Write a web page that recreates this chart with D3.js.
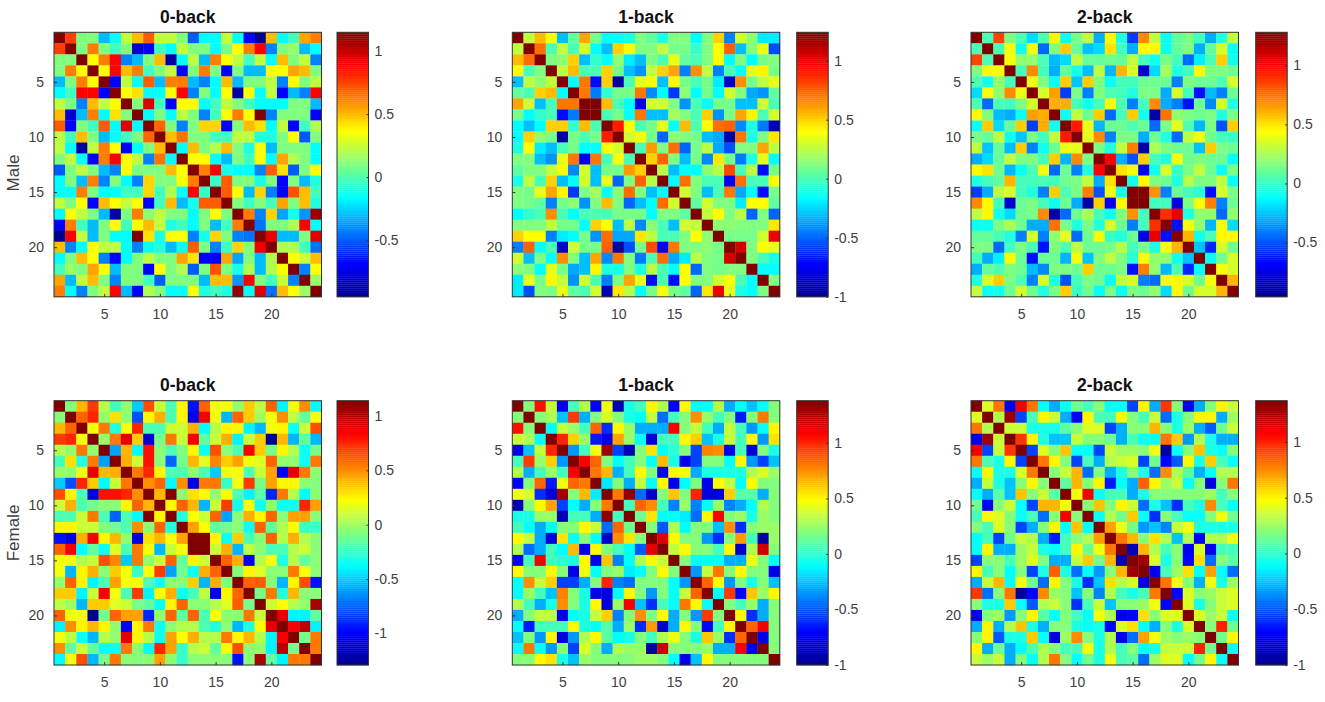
<!DOCTYPE html>
<html lang="en">
<head>
<meta charset="UTF-8" />
<title>Functional connectivity by task load</title>
<style>
    body { margin: 0; background: #fff; }
    svg text { font-family: "Liberation Sans", Arial, sans-serif; }
    .axis text { font-size: 14px; fill: #404040; }
    .axis path, .axis line { stroke: #333; stroke-width: 1; }
    .cells { filter: blur(0.55px); }
</style>
</head>
<body>
<div id="container"></div>
<script src="https://cdnjs.cloudflare.com/ajax/libs/d3/7.1.1/d3.min.js"></script>
<script>
    // upper triangle of each matrix, one row per line, starting at the diagonal
    const male0 = [
        [1.15,.76,.1,.1,-.3,-.16,.23,.5,.7,.23,.23,.1,-.5,-.16,-.16,.23,-.16,-.69,-.95,.5,-.16,-.03,.55,.63],
        [1.15,.1,.63,.1,-.03,.1,-.8,-.69,-.03,-.16,.23,.1,.1,-.16,.1,.36,.63,.89,-.42,.1,.15,-.3,-.16],
        [1.15,.36,.63,.89,-.42,-.3,.1,.5,-.9,-.16,.23,-.3,.63,.36,.23,-.03,.23,-.16,.5,.1,.23,-.42],
        [1.15,.36,.89,.5,.63,-.03,.1,.23,-.69,.1,.63,.1,-.69,.1,-.3,-.3,.36,.36,.55,.5,.1],
        [1.15,-.69,.23,-.16,.7,-.3,.63,.63,-.3,-.42,-.16,.5,-.3,.1,.1,.23,-.42,.36,.1,.23],
        [1.15,.36,.42,-.16,-.16,.36,.89,-.42,.1,-.16,.36,-.9,.36,-.16,.23,-.69,-.3,-.42,.89],
        [1.15,.1,.95,-.03,-.69,.36,.36,-.16,-.03,.23,.1,-.03,-.16,-.16,-.16,.1,.1,-.3],
        [1.15,-.16,.1,-.16,.23,.1,-.42,-.03,.36,.63,.36,1.15,-.42,.1,.1,.1,-.69],
        [1.15,.68,.1,-.42,.1,.45,.45,-.69,.12,.5,.42,-.16,.23,-.69,-.03,.2],
        [1.15,.5,.65,.1,.1,-.03,-.03,.23,.23,-.1,-.1,.1,.36,-.5,.1],
        [1.15,-.16,.5,.1,.2,.5,.1,-.1,.36,-.3,.1,.1,.1,-.16],
        [1.15,.36,.36,-.16,-.3,.1,-.03,.36,-.16,.55,.2,.1,-.16],
        [1.15,.63,.89,-.12,-.16,-.16,-.42,.7,.42,-.5,.1,.36],
        [1.15,-.05,.7,.1,.1,-.12,.1,-.69,.1,-.3,-.1],
        [1.15,.7,.36,-.3,.45,-.42,-.69,.72,.5,-.03],
        [1.15,.1,-.03,.1,-.03,.55,.1,.5,-.1],
        [1.15,.63,-.42,.45,-.35,-.12,-.38,1.1],
        [1.15,-.45,.1,.1,.2,.89,-.16],
        [1.15,.92,-.3,-.3,.1,.95],
        [1.15,.2,.2,-.03,-.45],
        [1.15,.36,.25,.5],
        [1.15,-.42,.36],
        [1.15,.15],
        [1.15]
    ];
    const male1 = [
        [1.25,.26,.55,.4,-.3,.05,.6,.1,-.16,-.16,-.1,.12,.05,-.1,.12,.12,-.16,.12,.5,-.44,.3,.15,-.2,-.2],
        [1.25,.72,0,.26,0,.3,-.16,-.3,.5,.4,.12,.12,.26,.1,.1,-.05,.12,.4,.75,-.3,.12,.35,-.55],
        [1.25,.12,.15,.5,-.3,-.05,-.16,.15,-.2,-.3,.12,0,.35,.05,0,.12,.4,-.16,.12,-.16,.1,.12],
        [1.25,.26,.55,0,0,.5,.1,-.3,-.4,.26,.5,.6,-.44,.65,.26,-.44,0,-.16,.35,.42,.1],
        [1.25,-.16,.7,-.7,.5,-.95,0,.35,.38,-.3,.42,.1,0,.1,-.2,-.85,.65,.1,.26,.35],
        [1.25,.7,-.45,-.05,.1,.1,.7,-.42,-.16,-.6,.15,-.16,.1,-.16,.3,.12,-.35,-.4,.05],
        [1.25,1.25,.55,0,-.16,-.75,.3,.3,.12,-.4,0,-.16,.1,.1,-.3,-.3,.3,0],
        [1.25,0,.1,-.16,.7,-.3,-.3,.2,.12,0,.5,-.4,.1,.6,.42,0,.3],
        [1.25,.9,.4,0,.1,.35,-.16,.55,0,.4,.72,.75,-.42,-.1,-.45,-.9],
        [1.25,.3,.38,.1,-.5,.15,.12,.1,-.3,-.35,-.95,.7,-.1,.12,.45],
        [1.25,0,.62,.12,.72,-.5,.1,.25,-.35,-.55,.12,.12,.6,.25],
        [1.25,.5,.75,.12,-.3,.1,-.42,.45,.1,-.45,-.1,.35,-.16],
        [1.25,.25,-.3,-.16,-.16,.15,.25,.8,0,.25,-.7,.1],
        [1.25,-.16,.72,.12,0,0,-.75,.72,0,0,.38],
        [1.25,.3,.12,-.3,0,.7,-.35,-.16,-.7,.1],
        [1.25,.05,.3,.12,.12,-.2,.4,.4,.05],
        [1.25,.26,.4,.12,.25,-.5,.12,-.5],
        [1.25,.15,.15,.12,.12,.12,.45],
        [1.25,.1,.1,.1,.3,1],
        [1.25,1.05,.12,.4,.35],
        [1.25,.12,0,-.1],
        [1.25,-.16,-.16],
        [1.25,.12],
        [1.25]
    ];
    const male2 = [
        [1.3,.05,.85,.16,.05,-.2,.05,.45,-.1,.15,.3,-.3,.45,-.05,-.55,.7,.3,-.1,.1,.15,.03,-.3,-.05,.3],
        [1.3,.05,.42,-.08,.42,-.45,.16,.55,.1,-.25,-.2,.5,.03,-.3,.45,.45,-.1,.1,.16,-.3,.1,.35,-.1],
        [1.3,.42,.2,.2,.05,-.27,-.2,.3,.1,.1,.12,.1,.3,.03,-.08,.15,.03,-.45,-.15,.05,.55,-.08],
        [1.3,.03,.7,.03,-.3,.1,-.08,-.27,.3,-.28,.6,.35,-.8,-.2,.25,-.05,.03,.45,.16,.16,.12],
        [1.3,.4,.16,-.1,.55,-.25,.55,.16,-.1,.03,.03,.12,.12,.12,-.4,.16,.12,.12,.05,.35],
        [1.3,.35,.65,-.55,.15,-.4,.16,.05,.03,-.05,.15,.15,-.3,.35,.03,-.65,-.27,-.4,.12],
        [1.3,.62,.62,.03,-.08,.03,.42,.05,-.4,.03,.7,-.3,-.4,-.65,.12,-.38,.35,-.05],
        [1.3,-.08,.3,.12,.55,-.45,.03,.55,-.08,-.9,.75,.2,.15,.12,.15,-.05,.15],
        [1.3,.95,.4,-.28,.12,.12,.05,.12,-.45,.15,.38,.05,-.28,.15,-.5,.55],
        [1.3,.38,.7,-.4,.15,.15,-.3,.12,-.05,-.45,.3,.42,.12,.03,0],
        [1.3,.15,-.05,.3,.72,-.9,.25,.15,.12,.12,-.25,.55,.15,.12],
        [1.3,1,-.3,-.5,.55,.03,-.05,.42,.12,.16,.12,.12,-.12],
        [1.3,.5,.42,-.7,-.08,.35,0,.15,.3,.12,-.1,.15],
        [1.3,-.08,.45,.16,.12,-.05,.28,.16,.16,.3,-.1],
        [1.3,1.3,.68,-.4,.12,.03,-.03,-.65,.35,.15],
        [1.3,.03,.03,-.75,.16,.42,.72,-.4,.12],
        [1.3,.9,1.05,-.05,.2,.2,-.45,.2],
        [1.3,-.65,.42,.2,-.28,.42,-.2],
        [1.3,.6,-.08,.05,.45,.45],
        [1.3,-.25,-.6,.35,.12],
        [1.3,-.1,.12,.35],
        [1.3,.42,.35],
        [1.3,.6],
        [1.3]
    ];
    const female0 = [
        [1.15,-.07,.4,.7,.05,-.22,-.03,-.5,.65,.1,-.2,.25,-.95,.6,.2,.2,-.03,.35,.07,.6,-.4,.2,.5,-.38],
        [1.15,.6,.75,-.03,.3,-.03,-.8,.25,.42,-.2,.25,-1.05,.85,.2,-.55,.6,.35,0,.2,.5,.07,-.15,.2],
        [1.15,.2,.55,-.3,.2,.75,-.2,-.2,.1,.1,.42,-.38,.05,.25,.25,-.4,-.55,.2,.25,-.35,.1,.65],
        [1.15,-.03,.55,.9,.35,-1.1,-.1,.55,.1,.85,-.15,.1,.42,-.4,.1,.35,-1.3,.4,-.55,-.15,-.55],
        [1.15,-.6,.4,-.38,.8,-.05,-.2,-.07,.25,-.35,.65,-.05,-.2,.85,.35,-.1,.25,.05,-.35,-.1],
        [1.15,.42,.1,.8,-.05,-.75,-.1,.4,.15,.52,.35,.45,.2,.15,.6,-.03,-.03,-.35,.55],
        [1.15,.55,.75,.25,-.2,-.2,-.03,-.2,-.5,.2,.2,-.2,.1,.45,-1,.9,.55,-.05],
        [1.15,.5,.6,-.38,.5,-1.05,.55,.55,-.25,.2,.7,-.1,.45,.25,.25,-.05,-.07],
        [1.15,.4,1.15,-.05,.3,.22,-.03,.22,-.2,-.4,-.15,-.9,.55,.05,-.38,-.05],
        [1.15,.25,.6,.4,-.55,.1,.7,-.35,.22,-.35,-.03,-.35,-.35,.75,.45],
        [1.15,-.3,.22,.1,.6,-.6,-.05,.42,.25,.6,-.05,.45,.45,-.05],
        [1.15,.45,.22,-.15,-.1,-.05,-.35,.6,-.15,.05,.22,-.25,-.25],
        [1.15,1.15,.25,-.35,.35,-.2,-.05,.6,.05,.42,.05,-.05],
        [1.15,.1,.42,-.55,.07,-.05,-.2,-.2,.05,.1,-.05],
        [1.15,.6,.42,-1,.05,.22,-.3,.05,-.15,-.05],
        [1.15,-.07,.25,.15,-.05,-.05,.55,.22,-.05],
        [1.15,.6,.62,-.05,-.55,.25,.65,-.95],
        [1.15,-.1,.55,-.3,.4,-.05,-.05],
        [1.15,.1,.22,.05,-.03,1.05],
        [1.15,.9,-.4,-.4,-.15],
        [1.15,.85,1,-.4],
        [1.15,-.1,.55],
        [1.15,.55],
        [1.15]
    ];
    const female1 = [
        [1.4,.2,1.05,.35,-.75,.05,.3,-.7,.45,-.9,-.05,.05,.5,.3,-.7,.5,-.1,-.1,.3,-.3,-.1,-.25,-.1,.2],
        [1.4,.2,.3,-.25,.95,-.3,.2,.4,.2,-.05,-.1,.35,-.45,.05,.2,.75,.25,.05,.2,-.65,.2,.8,.2],
        [1.4,-.1,.35,.25,.05,.85,-.6,.5,.25,-.3,-.3,-.3,1.1,.2,.35,.05,-.3,.35,.05,-.35,-.1,.5],
        [1.4,1,.6,.25,-.65,-.8,.7,.25,-.1,-.8,.05,.05,.5,.6,-.25,-.05,.35,.05,.5,-.35,.55],
        [1.4,-.35,.05,.45,1.3,-.55,-.9,.2,.55,-.1,0,.2,-.55,.78,.75,-.75,.05,-.8,.2,-.05],
        [1.4,1.1,.85,.2,-.1,.05,.2,-.1,.65,-.05,-.75,-.55,.2,.2,-.1,.5,-.35,-.55,-.25],
        [1.4,.8,.65,-.3,.05,.5,.2,-.75,.5,.45,-.3,-.05,-.05,-.05,-.05,.3,.4,.25],
        [1.4,-.15,.2,-.3,.35,-.1,.5,-.75,-.1,.2,-.75,.5,.35,-.1,.5,.2,.2],
        [1.4,.8,1.35,-.45,-.85,.2,.62,.2,1,-.8,-.8,.6,.1,.1,-.3,.2],
        [1.4,.05,.85,.75,.05,-.4,.25,-.4,-.1,.25,-.4,-.3,-.1,.3,.2],
        [1.4,.15,.55,-.1,-.1,-.15,-.45,.5,1.1,.2,.25,-.05,.25,.2],
        [1.4,.2,-.5,.3,-.1,.2,.2,-.25,.75,-.6,.2,.25,.25],
        [1.4,1.15,.5,.2,.2,-.35,-.6,.2,.72,.05,-.95,.25],
        [1.4,.35,.5,.2,.2,.05,.5,-.85,.3,1.2,.2],
        [1.4,.2,-.1,-.1,-.1,-.3,-.3,.45,.2,-.1],
        [1.4,-.35,.35,.8,.2,.5,.2,.2,-.75],
        [1.4,.85,.5,-.35,.2,-.05,.2,-.25],
        [1.4,-.1,.95,-.7,.62,.25,.5],
        [1.4,.2,.05,.25,-.3,.2],
        [1.4,.5,-.6,-.3,.2],
        [1.4,.85,1.1,.2],
        [1.4,-.75,.2],
        [1.4,.2],
        [1.4]
    ];
    const female2 = [
        [1.4,.4,.8,-.75,1.1,.8,-.1,-.3,-.1,.15,.05,.2,-.1,-.1,-.55,.5,-.3,.95,.2,-.75,-.3,.2,.5,.35],
        [1.4,.3,1.3,-.55,.05,.5,.35,-.3,-.7,.5,.05,.05,.5,.2,.05,.35,-.45,-.05,.2,.5,.5,-.3,.25],
        [1.4,.35,.35,-.05,-.05,-.05,.1,.2,.4,.4,-.55,-.3,.2,.2,.65,.2,-.05,.25,-.3,-.5,.15,.35],
        [1.4,.95,.5,-.05,-.25,-.25,.35,.2,.2,.15,-.3,.05,-.1,-.1,.8,.6,-.35,.3,-.05,-.3,-.3],
        [1.4,-.55,.4,.2,.62,-.1,-.1,-.55,.35,.25,.25,.2,.45,-.95,-.1,.2,.62,-.05,-.1,.2],
        [1.4,.8,.5,.2,-.55,.05,-.3,.3,.35,.4,-.55,.15,-.7,-.5,.5,-.05,.6,.05,-.1],
        [1.4,.2,.35,.65,-.45,.2,-.3,-.05,.2,-.05,-.45,.75,.3,.1,-.3,-.1,.3,.3],
        [1.4,.1,.65,.2,.5,-.65,-.1,-.3,.85,.5,.25,.35,-.1,.2,-.8,.2,.8],
        [1.4,.45,1.1,-.1,.05,.05,-.3,-.05,.2,.2,.2,.2,.2,.25,.05,.2],
        [1.4,.2,.62,.2,.5,.35,-.45,-.05,-.25,-.6,.05,-.05,.75,.05,-.1],
        [1.4,-.1,.3,.15,.6,-.1,-.6,.2,.05,-.1,-.1,.2,.45,.15],
        [1.4,.7,.45,.15,-.35,-.25,-.4,.35,.45,-.05,-.05,-.05,-.05],
        [1.4,.8,.65,.2,.55,.3,-.25,.3,-.7,.3,.3,.45],
        [1.4,-.9,.65,.3,.05,.2,-.75,.4,-.75,.05,.05],
        [1.4,1.3,.4,-.05,.2,-.7,.55,-.45,.2,.1],
        [1.4,-.75,.05,.25,.55,-.1,.7,-.1,-.45],
        [1.4,.8,.45,.2,-.3,.45,-.05,.25],
        [1.4,-.7,.4,.2,.25,.35,.4],
        [1.4,.4,-.05,.2,.35,.4],
        [1.4,.4,.25,.35,-.1],
        [1.4,.2,1,.15],
        [1.4,.15,.5],
        [1.4,-.1],
        [1.4]
    ];

    const indexTicks = [5, 10, 15, 20];
    const barTicks5 = [-.5, 0, .5, 1];
    const barTicks4 = [-1, -.5, 0, .5, 1];

    const panels = [
        { title: '0-back', m: male0, range: [-.95, 1.15], ticks: barTicks5, x: 54, y: 32.3, bar: 337, h: 264.5 },
        { title: '1-back', m: male1, range: [-1, 1.24], ticks: barTicks4, x: 512.3, y: 32.3, bar: 796.7, h: 264.5 },
        { title: '2-back', m: male2, range: [-.96, 1.28], ticks: barTicks5, x: 971, y: 32.3, bar: 1255.7, h: 264.5 },
        { title: '0-back', m: female0, range: [-1.29, 1.14], ticks: barTicks4, x: 54, y: 400.7, bar: 337, h: 264.3 },
        { title: '1-back', m: female1, range: [-1, 1.38], ticks: barTicks4, x: 512.3, y: 400.7, bar: 796.7, h: 264.3 },
        { title: '2-back', m: female2, range: [-1, 1.37], ticks: barTicks4, x: 971, y: 400.7, bar: 1255.7, h: 264.3 }
    ];

    const plot_w = 267.5, bar_w = 31.5, n = 24;
    const svg = d3.select('#container').append('svg').attr('width', 1325).attr('height', 702);

    // matlab jet
    const jet = d3.scaleLinear()
        .domain([0, .125, .375, .625, .875, 1])
        .range(['#00008f', '#0000ff', '#00ffff', '#ffff00', '#ff0000', '#800000'])
        .clamp(true);

    panels.forEach(p => {
        const g = svg.append('g');
        const x = d3.scaleLinear().domain([.5, n + .5]).range([p.x, p.x + plot_w]);
        const y = d3.scaleLinear().domain([.5, n + .5]).range([p.y, p.y + p.h]);
        const level = d3.scaleLinear().domain(p.range).range([0, 1]);

        // fill in both halves of the symmetric matrix
        const cells = [];
        p.m.forEach((row, i) => row.forEach((v, k) => {
            cells.push({ r: i + 1, c: i + k + 1, v });
            if (k > 0) cells.push({ r: i + k + 1, c: i + 1, v });
        }));

        g.append('g').attr('class', 'cells').selectAll('rect').data(cells).enter().append('rect')
            .attr('x', d => x(d.c - .5))
            .attr('y', d => y(d.r - .5))
            .attr('width', x(2) - x(1) + .3)
            .attr('height', y(2) - y(1) + .3)
            .attr('fill', d => jet(level(d.v)));

        // box and inward ticks
        g.append('rect').attr('x', p.x).attr('y', p.y).attr('width', plot_w).attr('height', p.h)
            .attr('fill', 'none').attr('stroke', '#333');
        g.append('g').attr('class', 'axis').attr('transform', `translate(0,${p.y + p.h})`)
            .call(d3.axisBottom(x).tickValues(indexTicks).tickSize(-3).tickPadding(12).tickSizeOuter(0))
            .call(a => a.select('.domain').remove());
        g.append('g').attr('class', 'axis').attr('transform', `translate(${p.x},0)`)
            .call(d3.axisLeft(y).tickValues(indexTicks).tickSize(-3).tickPadding(10).tickSizeOuter(0))
            .call(a => a.select('.domain').remove());

        g.append('text').text(p.title)
            .attr('x', p.x + plot_w / 2).attr('y', p.y - 9.5)
            .attr('text-anchor', 'middle')
            .style('font-size', '17.5px').style('font-weight', 'bold').style('fill', '#111');

        // colorbar
        const barY = d3.scaleLinear().domain(p.range).range([p.y + p.h, p.y]);
        const steps = d3.range(128);
        const stepH = p.h / 128;
        g.append('g').attr('class', 'cells').selectAll('rect').data(steps).enter().append('rect')
            .attr('x', p.bar)
            .attr('y', d => p.y + p.h - (d + 1) * stepH)
            .attr('width', bar_w)
            .attr('height', stepH + .3)
            .attr('fill', d => jet((d + .5) / 128));
        g.append('rect').attr('x', p.bar).attr('y', p.y).attr('width', bar_w).attr('height', p.h)
            .attr('fill', 'none').attr('stroke', '#333');
        g.append('g').attr('class', 'axis').attr('transform', `translate(${p.bar + bar_w},0)`)
            .call(d3.axisRight(barY).tickValues(p.ticks).tickFormat(d => d).tickSize(-2).tickPadding(6).tickSizeOuter(0))
            .call(a => a.select('.domain').remove());
    });

    // row labels
    const rowLabels = [{ text: 'Male', cy: 173 }, { text: 'Female', cy: 533 }];
    svg.selectAll('.rowlabel').data(rowLabels).enter().append('text')
        .attr('class', 'rowlabel')
        .text(d => d.text)
        .attr('transform', d => `translate(19,${d.cy}) rotate(-90)`)
        .attr('text-anchor', 'middle')
        .style('font-size', '17px')
        .style('fill', '#404040');
</script>
</body>
</html>
